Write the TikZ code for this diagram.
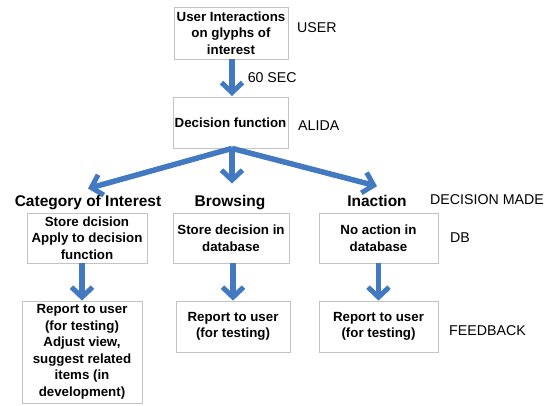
\documentclass[tikz,border=0pt]{standalone}
\usepackage{fontspec}
\setmainfont{Liberation Sans}
\usetikzlibrary{arrows.meta}

\definecolor{flowblue}{RGB}{66,121,192}
\definecolor{boxgray}{RGB}{195,195,195}

\tikzset{
  stepbox/.style={draw=boxgray, line width=0.8pt, fill=white, align=center,
    font=\fontsize{13.3}{16.5}\selectfont\bfseries, inner sep=1pt},
  heading/.style={font=\fontsize{15.5}{18}\selectfont\bfseries, inner sep=2pt},
  tag/.style={font=\fontsize{14.2}{16}\selectfont, anchor=west, inner sep=0pt},
  flow/.style={draw=flowblue, line width=5.5pt,
    -{Straight Barb[length=10pt, width=21pt, line width=5pt]}}
}

\begin{document}
\begin{tikzpicture}[x=1pt, y=-1pt]
      \useasboundingbox (0,0) rectangle (552,405);

      % top of the chain
      \node [stepbox, minimum width=114pt, minimum height=52pt] (interact) at (231,33)
        {User Interactions\\on glyphs of\\interest};
      \node [stepbox, minimum width=115pt, minimum height=51pt] (decide) at (230.5,122.5)
        {Decision function};

      % the three decisions
      \node [heading] (category) at (88,203) {Category of Interest};
      \node [heading] (browsing) at (230,203) {Browsing};
      \node [heading] (inaction) at (377,201) {Inaction};

      \node [stepbox, minimum width=120pt, minimum height=50pt] (store) at (87,238)
        {Store dcision\\Apply to decision\\function};
      \node [stepbox, minimum width=116pt, minimum height=50pt] (storedb) at (231,238)
        {Store decision in\\database};
      \node [stepbox, minimum width=119pt, minimum height=50pt] (noaction) at (378.5,238)
        {No action in\\database};

      % feedback
      \node [stepbox, minimum width=120pt, minimum height=102pt] (reportadjust) at (82,352)
        {Report to user\\ (for testing)\\Adjust view,\\suggest related\\items (in\\development)};
      \node [stepbox, minimum width=114pt, minimum height=51pt] (reportbrowse) at (233,326.5)
        {Report to user\\(for testing)};
      \node [stepbox, minimum width=119pt, minimum height=51pt] (reportnone) at (378.5,326.5)
        {Report to user\\(for testing)};

      % side tags
      \node [tag] (user) at (297,28) {USER};
      \node [tag] (alida) at (298,126) {ALIDA};
      \node [tag] (made) at (430,200) {DECISION MADE};
      \node [tag] (db) at (450,238) {DB};
      \node [tag] (feedback) at (449,331) {FEEDBACK};

      % connectors
      \draw [flow] (interact.south -| 232,0) -- (232,96)
        node [tag, midway, right=13pt] (sixty) {60 SEC};
      \draw [flow] (decide.south -| 232,0) -- ([yshift=5pt]category.north);
      \draw [flow] (decide.south -| 232,0) -- ([yshift=10pt]browsing.north -| 232,0);
      \draw [flow] (decide.south -| 232,0) -- ([yshift=7pt]inaction.north);
      \draw [flow] (store.south -| reportadjust.north) -- (reportadjust.north);
      \draw [flow] (storedb.south -| reportbrowse.north) -- (reportbrowse.north);
      \draw [flow] (noaction.south -| reportnone.north) -- (reportnone.north);

\end{tikzpicture}
\end{document}
